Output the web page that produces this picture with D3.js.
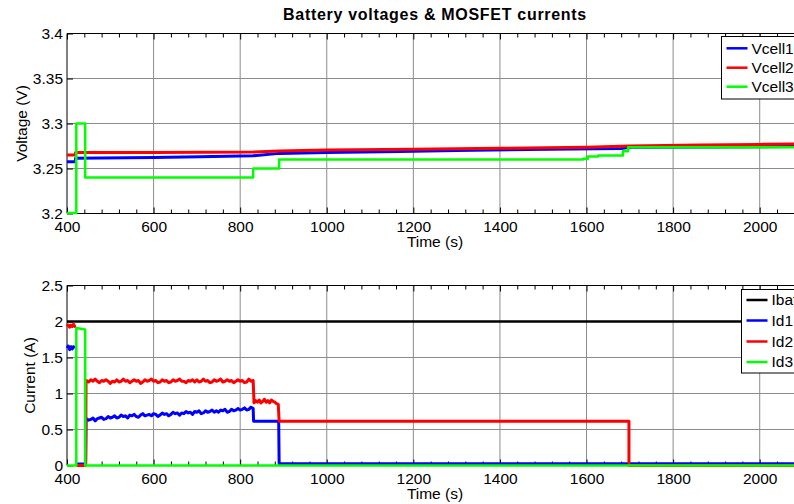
<!DOCTYPE html>
<html><head><meta charset="utf-8">
<script src="https://cdn.jsdelivr.net/npm/d3@7"></script>
<style>body{margin:0;background:#fff}svg{display:block;font-family:"Liberation Sans",Arial,Helvetica,sans-serif}</style>
</head><body>
<svg id="c" width="794" height="504"></svg>
<script>
// ---------- tick labels ----------
const xTicks = [400,600,800,1000,1200,1400,1600,1800,2000];
const xTickLabels = ["400","600","800","1000","1200","1400","1600","1800","2000"];
const vTicks = [3.2,3.25,3.3,3.35,3.4];
const vTickLabels = ["3.2","3.25","3.3","3.35","3.4"];
const iTicks = [0,0.5,1,1.5,2,2.5];
const iTickLabels = ["0","0.5","1","1.5","2","2.5"];

// ---------- top panel: cell voltages [time s, volts] ----------
const vcell1 = [[400,3.2575],[419,3.2575],[420,3.2615],[600,3.2622],[707,3.2631],[830,3.2642],[890,3.2668],[1000,3.2678],[1169,3.2688],[1300,3.2700],[1515,3.2713],[1680,3.2722],[1700,3.2735],[1900,3.2740],[2100,3.2745]];
const vcell2 = [[400,3.2650],[419,3.2650],[420,3.2678],[600,3.2678],[830,3.2682],[890,3.2695],[1000,3.2705],[1200,3.2715],[1400,3.2724],[1600,3.2735],[1700,3.2750],[1862,3.2760],[2000,3.2768],[2100,3.2772]];
const vcell3 = [[400,3.2005],[421.5,3.2005],[421.5,3.3],[442,3.3],[442,3.24],[830,3.24],[830,3.25],[890,3.25],[890,3.26],[1592,3.26],[1592,3.2608],[1603,3.2608],[1603,3.2633],[1627,3.2633],[1627,3.2644],[1684,3.2644],[1684,3.2692],[1696,3.2692],[1696,3.2737],[2100,3.2737]];

// ---------- bottom panel: currents ----------
const ibat = [[400,2.0],[2100,2.0]];
const tNoisy = [445,450,455,460,465,470,475,480,485,490,495,500,505,510,515,520,525,530,535,540,545,550,555,560,565,570,575,580,585,590,595,600,605,610,615,620,625,630,635,640,645,650,655,660,665,670,675,680,685,690,695,700,705,710,715,720,725,730,735,740,745,750,755,760,765,770,775,780,785,790,795,800,805,810,815,820,825,830];
const id1Noisy = [0.65,0.63,0.64,0.66,0.62,0.65,0.66,0.67,0.64,0.65,
 0.68,0.66,0.67,0.69,0.66,0.67,0.70,0.68,0.69,0.66,
 0.70,0.69,0.71,0.68,0.67,0.70,0.72,0.69,0.70,0.71,
 0.69,0.72,0.71,0.68,0.70,0.73,0.71,0.72,0.69,0.71,
 0.74,0.72,0.73,0.70,0.73,0.72,0.75,0.73,0.74,0.71,
 0.75,0.74,0.76,0.72,0.73,0.76,0.74,0.75,0.77,0.74,
 0.76,0.74,0.77,0.76,0.78,0.74,0.75,0.78,0.76,0.77,
 0.79,0.77,0.78,0.80,0.77,0.78,0.81,0.79];
const id2Noisy = [1.18,1.16,1.19,1.17,1.20,1.17,1.15,1.18,1.17,1.19,
 1.17,1.14,1.17,1.16,1.19,1.16,1.17,1.20,1.17,1.18,
 1.15,1.17,1.19,1.17,1.18,1.14,1.16,1.19,1.17,1.18,
 1.20,1.17,1.18,1.15,1.16,1.19,1.17,1.18,1.15,1.16,
 1.19,1.17,1.18,1.20,1.17,1.17,1.15,1.18,1.17,1.19,
 1.16,1.19,1.16,1.17,1.20,1.17,1.18,1.15,1.16,1.19,
 1.17,1.18,1.20,1.16,1.17,1.19,1.17,1.18,1.15,1.17,
 1.19,1.17,1.18,1.15,1.16,1.20,1.17,1.18];
const id1Start = [[400,1.63],[403,1.66],[406,1.61],[409,1.65],[412,1.62],[415,1.65],[418,1.63]];
const id2Start = [[400,1.93],[403,1.95],[406,1.92],[409,1.95],[412,1.93],[415,1.96],[418,1.93],[420,1.94]];
const id2Mid = [[832,0.87],[836,0.90],[840,0.88],[844,0.91],[848,0.87],[852,0.89],[856,0.92],[860,0.88],[864,0.90],[868,0.87],[872,0.91],[876,0.89],[880,0.88],[884,0.86],[888,0.85]];
const id1 = [...id1Start,[419,null],[421,0.02],[443,0.02],[444,0.64],...tNoisy.map((t,i)=>[t,id1Noisy[i]]),[831,0.615],[889,0.615],[890,0.025],[2100,0.025]];
const id2 = [...id2Start,[421,null],[422,0],[443,0],[444,1.17],...tNoisy.map((t,i)=>[t,id2Noisy[i]]),...id2Mid,[890,0.615],[1698,0.615],[1698,0],[2100,0]];
const id3 = [[400,0],[421.5,0],[421.5,1.91],[442,1.89],[442,0],[2100,0]];

const vSeries = [{name:"Vcell1",data:vcell1,color:"#0000ff",w:3},{name:"Vcell2",data:vcell2,color:"#ff0000",w:3},{name:"Vcell3",data:vcell3,color:"#00ff00",w:2.5}];
const iSeries = [{name:"Ibat",data:ibat,color:"#000000",w:2.5},{name:"Id1",data:id1,color:"#0000ff",w:3},{name:"Id2",data:id2,color:"#ff0000",w:3},{name:"Id3",data:id3,color:"#00ff00",w:2.5}];

// ---------- drawing ----------
const svg = d3.select("#c");
svg.append("rect").attr("width",794).attr("height",504).attr("fill","#fff");
const L = 67, R = 803;
const x = d3.scaleLinear().domain([400,2100]).range([L,R]);
const xMinor = d3.range(400,2101,40).filter(v=>v%200!==0);
const FS = 15.5;

svg.append("text").attr("x",435).attr("y",20).attr("text-anchor","middle")
  .attr("font-size",16).attr("letter-spacing","0.7px").attr("font-weight","bold").text("Battery voltages & MOSFET currents");

function panel(cfg){
  const y = d3.scaleLinear().domain(cfg.domain).range([cfg.bottom,cfg.top]);
  const g = svg.append("g");
  // grid
  g.append("g").selectAll("line").data(xTicks.filter(t=>t!==400)).join("line")
    .attr("x1",d=>x(d)).attr("x2",d=>x(d)).attr("y1",cfg.top).attr("y2",cfg.bottom)
    .attr("stroke","#8c8c8c").attr("stroke-width",1);
  g.append("g").selectAll("line").data(cfg.ticks.slice(1,-1)).join("line")
    .attr("x1",L).attr("x2",R).attr("y1",d=>y(d)).attr("y2",d=>y(d))
    .attr("stroke","#8c8c8c").attr("stroke-width",1);
  // axes
  const styleAxis = s => { s.select(".domain").remove(); s.selectAll("line").attr("stroke","#000");
    s.selectAll("text").attr("font-size",FS).attr("fill","#000"); s.attr("font-family",null); };
  g.append("g").attr("transform",`translate(0,${cfg.bottom})`)
    .call(d3.axisBottom(x).tickValues(xTicks).tickFormat((d,i)=>xTickLabels[i]).tickSize(-6).tickPadding(7.5)).call(styleAxis);
  g.append("g").attr("transform",`translate(0,${cfg.bottom})`)
    .call(d3.axisBottom(x).tickValues(xMinor).tickFormat("").tickSize(-4)).call(styleAxis);
  g.append("g").attr("transform",`translate(0,${cfg.top})`)
    .call(d3.axisTop(x).tickValues(xTicks).tickFormat("").tickSize(-6)).call(styleAxis);
  g.append("g").attr("transform",`translate(0,${cfg.top})`)
    .call(d3.axisTop(x).tickValues(xMinor).tickFormat("").tickSize(-4)).call(styleAxis);
  g.append("g").attr("transform",`translate(${L},0)`)
    .call(d3.axisLeft(y).tickValues(cfg.ticks).tickFormat((d,i)=>cfg.labels[i]).tickSize(-6).tickPadding(4)).call(styleAxis);
  // frame
  g.append("path").attr("d",`M${L},${cfg.top}H${R}M${L},${cfg.top}V${cfg.bottom}H${R}M${R},${cfg.top}V${cfg.bottom}`)
    .attr("fill","none").attr("stroke","#000").attr("stroke-width",1);
  // labels
  g.append("text").attr("x",435).attr("y",cfg.bottom+33.5).attr("text-anchor","middle").attr("font-size",FS).text("Time (s)");
  g.append("text").attr("transform",`translate(${cfg.ylabelX},${(cfg.top+cfg.bottom)/2}) rotate(-90)`)
    .attr("text-anchor","middle").attr("font-size",FS).text(cfg.ylabel);
  // data
  const line = d3.line().defined(d=>d[1]!==null).x(d=>x(d[0])).y(d=>y(d[1]));
  g.append("g").selectAll("path").data(cfg.series).join("path")
    .attr("d",d=>line(d.data)).attr("fill","none").attr("stroke",d=>d.color)
    .attr("stroke-width",d=>d.w).attr("stroke-linejoin","round");
  // legend
  const lg = g.append("g");
  lg.append("rect").attr("x",cfg.leg.x).attr("y",cfg.leg.y).attr("width",cfg.leg.w).attr("height",cfg.leg.h)
    .attr("fill","#fff").attr("stroke","#000").attr("stroke-width",1);
  cfg.series.forEach((s,i)=>{
    const ry = cfg.leg.rows[i];
    lg.append("line").attr("x1",cfg.leg.x+5).attr("x2",cfg.leg.x+26).attr("y1",ry).attr("y2",ry)
      .attr("stroke",s.color).attr("stroke-width",2.5);
    lg.append("text").attr("x",cfg.leg.x+30).attr("y",ry+5.4).attr("font-size",FS).text(s.name);
  });
}

panel({domain:[3.2,3.4],top:33.5,bottom:213.5,ticks:vTicks,labels:vTickLabels,ylabel:"Voltage (V)",ylabelX:26.5,
  series:vSeries,leg:{x:721.5,y:36.5,w:85,h:62.5,rows:[48.3,67.7,86.7]}});
panel({domain:[0,2.5],top:285.5,bottom:465.5,ticks:iTicks,labels:iTickLabels,ylabel:"Current (A)",ylabelX:35,
  series:iSeries,leg:{x:741.5,y:289.5,w:70,h:83.5,rows:[300,320.5,341.5,362]}});
</script>
</body></html>
